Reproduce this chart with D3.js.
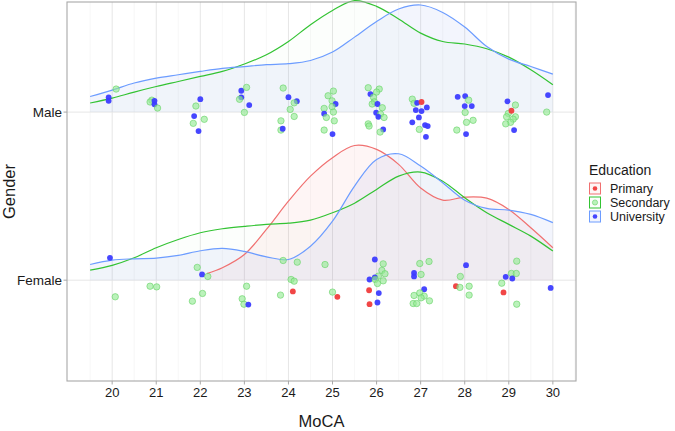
<!DOCTYPE html>
<html><head><meta charset="utf-8">
<script src="https://cdn.jsdelivr.net/npm/d3@7"></script>
<style>body{margin:0;background:#fff}svg{display:block;font-family:"Liberation Sans",Arial,sans-serif}</style>
</head><body><svg id="c" width="675" height="431"></svg>
<script>
// ---- data ----
const genders = ["Female", "Male"];              // y positions 1, 2
const educations = ["Primary", "Secondary", "University"];
const xTicks = [20,21,22,23,24,25,26,27,28,29,30];
const gridX = [19.5,20,20.5,21,21.5,22,22.5,23,23.5,24,24.5,25,25.5,26,26.5,27,27.5,28,28.5,29,29.5,30];
// ridge heights (fraction of group spacing) on gridX
const maleSecondary   = [0.054,0.083,0.119,0.152,0.182,0.212,0.242,0.286,0.341,0.420,0.520,0.605,0.663,0.629,0.554,0.470,0.420,0.405,0.377,0.327,0.252,0.163];
const maleUniversity  = [0.093,0.131,0.173,0.202,0.222,0.242,0.260,0.271,0.282,0.288,0.307,0.357,0.446,0.539,0.613,0.637,0.593,0.506,0.390,0.315,0.271,0.226];
const femaleSecondary = [0.060,0.088,0.133,0.193,0.242,0.282,0.306,0.320,0.332,0.339,0.357,0.401,0.458,0.540,0.619,0.643,0.589,0.490,0.401,0.332,0.262,0.173];
const femaleUniversity= [0.093,0.119,0.127,0.131,0.147,0.175,0.189,0.171,0.139,0.123,0.202,0.351,0.560,0.718,0.752,0.679,0.580,0.476,0.427,0.417,0.391,0.342];
const femalePrimaryX  = [22.15,22.5,23,23.5,24,24.5,25,25.5,26,26.5,27,27.5,28,28.5,29,29.5,30];
const femalePrimary   = [0.039,0.074,0.153,0.302,0.470,0.619,0.729,0.801,0.778,0.689,0.548,0.476,0.494,0.488,0.421,0.312,0.193];
// jittered points: [MoCA, vertical offset, education code P/S/U]
const malePoints = [
[20.09,0.137,"S"],[19.92,0.088,"U"],[19.92,0.067,"U"],[20.90,0.071,"S"],[20.86,0.060,"S"],[20.96,0.067,"U"],[20.96,0.046,"U"],[21.03,0.024,"S"],
[22.00,0.077,"U"],[21.90,0.036,"S"],[21.86,-0.024,"U"],[22.09,-0.043,"S"],[21.84,-0.067,"S"],[21.96,-0.113,"U"],
[22.93,0.127,"U"],[22.93,0.088,"U"],[23.05,0.147,"S"],[22.89,0.076,"S"],[23.11,0.042,"U"],[23.00,-0.002,"S"],
[23.88,0.143,"S"],[24.00,0.089,"U"],[24.19,0.065,"U"],[24.13,0.055,"S"],[24.04,0.016,"S"],[24.13,-0.026,"S"],[23.83,-0.052,"S"],[23.83,-0.107,"S"],[23.87,-0.099,"U"],
[25.02,0.125,"S"],[24.90,0.097,"S"],[24.99,0.067,"S"],[25.07,0.048,"U"],[24.81,0.022,"S"],[24.99,0.032,"S"],[25.02,0.000,"S"],[24.81,-0.010,"U"],[24.86,-0.032,"S"],[25.04,-0.052,"S"],[24.81,-0.107,"S"],[25.00,-0.131,"U"],
[25.81,0.145,"S"],[26.06,0.137,"S"],[26.00,0.119,"S"],[25.86,0.107,"U"],[25.93,0.088,"S"],[25.95,0.061,"S"],[25.90,0.048,"S"],[26.02,0.048,"U"],[26.13,0.026,"S"],[25.99,-0.004,"U"],[26.09,-0.012,"S"],[26.04,-0.028,"U"],[26.17,-0.032,"S"],[25.81,-0.070,"S"],[25.83,-0.083,"S"],[26.15,-0.103,"U"],[26.08,-0.119,"S"],
[26.81,0.077,"S"],[26.85,0.052,"S"],[26.92,0.055,"U"],[27.02,0.060,"P"],[27.14,0.028,"U"],[26.89,0.012,"U"],[27.02,0.006,"U"],[26.96,-0.032,"U"],[26.81,-0.061,"U"],[27.10,-0.077,"U"],[27.16,-0.083,"U"],[26.97,-0.103,"S"],[27.12,-0.147,"U"],
[27.84,0.091,"U"],[28.01,0.095,"U"],[28.09,0.071,"S"],[28.00,0.036,"U"],[28.16,0.036,"U"],[28.01,-0.002,"S"],[28.19,-0.049,"S"],[28.04,-0.061,"S"],[27.82,-0.107,"S"],[28.03,-0.131,"U"],
[28.97,0.064,"U"],[29.15,0.042,"S"],[28.99,-0.008,"S"],[29.06,0.008,"P"],[29.15,-0.028,"S"],[28.95,-0.028,"S"],[29.10,-0.042,"S"],[29.04,-0.061,"S"],[28.93,-0.070,"S"],[29.12,-0.107,"U"],
[29.89,0.101,"U"],[29.86,0.000,"S"]
];
const femalePoints = [
[19.95,0.133,"U"],[20.07,-0.099,"S"],[20.86,-0.036,"S"],[21.01,-0.040,"S"],
[21.93,0.076,"S"],[22.04,0.034,"U"],[22.17,0.022,"S"],[22.05,-0.079,"S"],[21.82,-0.125,"S"],
[23.05,-0.036,"S"],[22.95,-0.111,"S"],[22.99,-0.143,"S"],[23.09,-0.145,"U"],
[23.88,0.117,"S"],[24.20,0.107,"S"],[24.83,0.093,"S"],[24.06,0.004,"S"],[24.13,-0.006,"S"],[24.10,-0.067,"P"],[23.82,-0.089,"S"],[25.00,-0.071,"S"],[25.11,-0.099,"P"],
[25.96,0.123,"U"],[26.15,0.097,"S"],[26.12,0.058,"S"],[26.19,0.038,"S"],[26.04,0.024,"S"],[25.96,0.016,"U"],[25.84,0.004,"U"],[25.97,0.004,"S"],[26.15,-0.004,"S"],[26.02,-0.020,"S"],[25.83,-0.060,"P"],[26.05,-0.077,"U"],[25.84,-0.143,"P"],[26.02,-0.133,"U"],
[26.98,0.099,"S"],[27.19,0.111,"S"],[26.85,0.043,"U"],[26.85,0.022,"U"],[27.01,0.034,"S"],[27.08,-0.054,"U"],[26.98,-0.076,"S"],[26.85,-0.091,"S"],[27.08,-0.095,"S"],[27.01,-0.105,"S"],[27.20,-0.123,"S"],[26.83,-0.139,"S"],[26.91,-0.139,"S"],
[28.03,0.089,"U"],[27.90,0.022,"S"],[27.80,-0.036,"P"],[27.89,-0.043,"S"],[28.10,-0.036,"S"],[28.10,-0.089,"S"],
[29.18,0.113,"S"],[29.06,0.040,"S"],[29.17,0.040,"S"],[28.93,0.020,"U"],[29.08,0.010,"U"],[28.84,-0.018,"S"],[28.88,-0.073,"P"],[29.18,-0.143,"S"],[29.95,-0.046,"U"]
];

// ---- drawing ----
const svg = d3.select("#c");
const L = 67, R = 576, T = 2, B = 381;
const x = d3.scaleLinear().domain([18.975, 30.525]).range([L, R]);
const y = d3.scaleLinear().domain([0.4, 2.655]).range([B, T]);
const lineCol = {P:"#F07070", S:"#33C333", U:"#6C9CFF"};
const fillCol = {P:"rgba(240,112,112,0.07)", S:"rgba(51,195,51,0.015)", U:"rgba(120,140,230,0.09)"};

// grid
const g = svg.append("g");
d3.range(19.5, 30.6, 1).forEach(v => g.append("line").attr("x1", x(v)).attr("x2", x(v)).attr("y1", T).attr("y2", B).attr("stroke", "#f2f2f2").attr("stroke-width", 0.6));
xTicks.forEach(v => g.append("line").attr("x1", x(v)).attr("x2", x(v)).attr("y1", T).attr("y2", B).attr("stroke", "#e6e6e6").attr("stroke-width", 1));
[1,2].forEach(v => g.append("line").attr("x1", L).attr("x2", R).attr("y1", y(v)).attr("y2", y(v)).attr("stroke", "#e6e6e6").attr("stroke-width", 1));

const ridges = [
  {base:2, xs:gridX, hs:maleSecondary, e:"S"},
  {base:2, xs:gridX, hs:maleUniversity, e:"U"},
  {base:1, xs:femalePrimaryX, hs:femalePrimary, e:"P"},
  {base:1, xs:gridX, hs:femaleSecondary, e:"S"},
  {base:1, xs:gridX, hs:femaleUniversity, e:"U"}
];
const area = d3.area().curve(d3.curveCatmullRom.alpha(0.5));
const line = d3.line().curve(d3.curveCatmullRom.alpha(0.5));
[2,1].forEach(b => {
  ridges.filter(r => r.base === b).forEach(r => {
    const pts = r.xs.map((v,i) => [v, r.hs[i]]);
    svg.append("path").datum(pts)
      .attr("d", area.x(d => x(d[0])).y0(y(b)).y1(d => y(b + d[1])))
      .attr("fill", fillCol[r.e]);
  });
  ridges.filter(r => r.base === b).forEach(r => {
    const pts = r.xs.map((v,i) => [v, r.hs[i]]);
    svg.append("path").datum(pts)
      .attr("d", line.x(d => x(d[0])).y(d => y(b + d[1])))
      .attr("fill", "none").attr("stroke", lineCol[r.e]).attr("stroke-width", 1.2);
  });
});

// points
function drawPoint(sel, px, py, e, r) {
  if (e === "S") sel.append("circle").attr("cx", px).attr("cy", py).attr("r", r)
      .attr("fill", "rgba(150,235,150,0.65)").attr("stroke", "rgba(100,210,100,0.75)").attr("stroke-width", 0.8);
  else sel.append("circle").attr("cx", px).attr("cy", py).attr("r", r - 0.3)
      .attr("fill", e === "P" ? "#F03C3C" : "#3C3CFF").attr("fill-opacity", 0.95);
}
const pg = svg.append("g");
malePoints.forEach(p => drawPoint(pg, x(p[0]), y(2 + p[1]), p[2], 3.2));
femalePoints.forEach(p => drawPoint(pg, x(p[0]), y(1 + p[1]), p[2], 3.2));

// panel border
svg.append("rect").attr("x", L).attr("y", T).attr("width", R - L).attr("height", B - T)
  .attr("fill", "none").attr("stroke", "#a8a8a8").attr("stroke-width", 1.1);

// axes
const xa = svg.append("g");
xTicks.forEach(v => {
  xa.append("line").attr("x1", x(v)).attr("x2", x(v)).attr("y1", B).attr("y2", B + 3.5).attr("stroke", "#a8a8a8");
  xa.append("text").attr("x", x(v)).attr("y", B + 16).attr("text-anchor", "middle")
    .attr("font-size", 13).attr("fill", "#1a1a1a").text(v);
});
genders.forEach((gname, i) => {
  const yy = y(i + 1);
  svg.append("line").attr("x1", L - 3.5).attr("x2", L).attr("y1", yy).attr("y2", yy).attr("stroke", "#a8a8a8");
  svg.append("text").attr("x", L - 5).attr("y", yy + 4.6).attr("text-anchor", "end")
    .attr("font-size", 13.5).attr("fill", "#1a1a1a").text(gname);
});
svg.append("text").attr("x", (L + R) / 2).attr("y", 427).attr("text-anchor", "middle")
  .attr("font-size", 16.5).attr("fill", "#1a1a1a").text("MoCA");
svg.append("text").attr("transform", "translate(15," + ((T + B) / 2) + ") rotate(-90)")
  .attr("text-anchor", "middle").attr("font-size", 16.5).attr("fill", "#1a1a1a").text("Gender");

// legend
const lg = svg.append("g").attr("transform", "translate(589,0)");
lg.append("text").attr("x", 0).attr("y", 175).attr("font-size", 14).attr("fill", "#1a1a1a").text("Education");
educations.forEach((e, i) => {
  const code = e[0];
  const yy = 183 + i * 14;
  lg.append("rect").attr("x", 0.5).attr("y", yy).attr("width", 11).attr("height", 11)
    .attr("fill", fillCol[code]).attr("stroke", lineCol[code]).attr("stroke-width", 1);
  drawPoint(lg, 6, yy + 5.5, code, 2.6);
  lg.append("text").attr("x", 21).attr("y", yy + 9.8).attr("font-size", 12.5).attr("fill", "#1a1a1a").text(e);
});
</script></body></html>
